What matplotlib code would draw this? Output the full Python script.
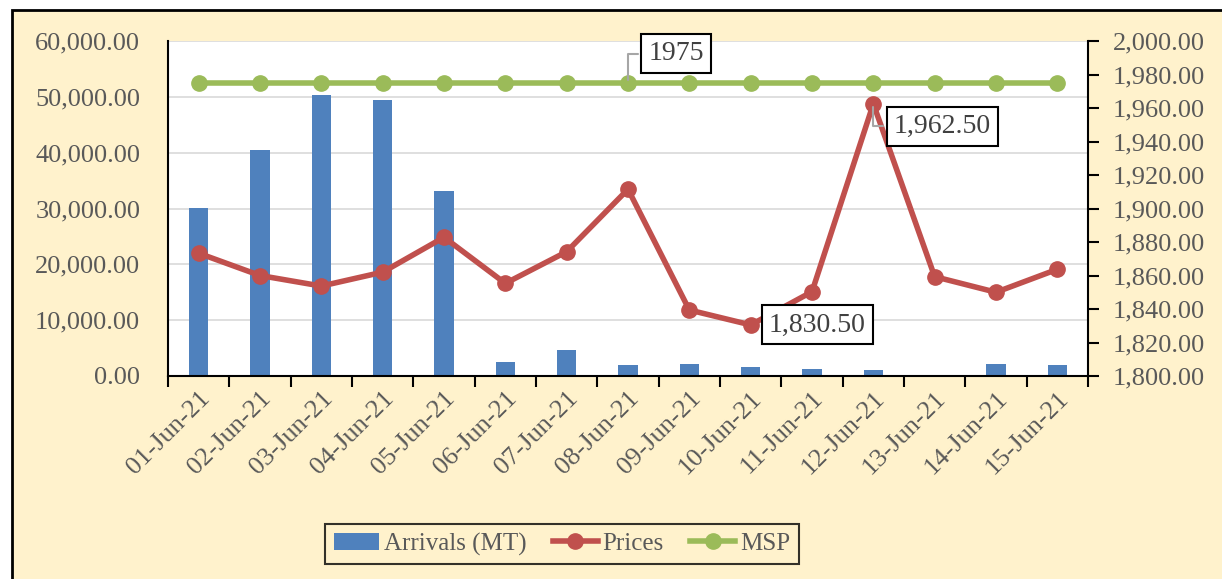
import matplotlib.pyplot as plt
from matplotlib.patches import Rectangle
from matplotlib.ticker import FuncFormatter, MultipleLocator

dates = ['01-Jun-21', '02-Jun-21', '03-Jun-21', '04-Jun-21', '05-Jun-21',
         '06-Jun-21', '07-Jun-21', '08-Jun-21', '09-Jun-21', '10-Jun-21',
         '11-Jun-21', '12-Jun-21', '13-Jun-21', '14-Jun-21', '15-Jun-21']
arrivals = [30100, 40500, 50300, 49400, 33100, 2500, 4700, 2000, 2100, 1550,
            1300, 1100, 150, 2100, 1900]
prices = [1873.3, 1860.0, 1853.7, 1862.0, 1882.8, 1855.3, 1874.2, 1911.5,
          1839.4, 1830.5, 1850.3, 1962.5, 1859.3, 1850.0, 1863.7]
msp = [1975] * 15

plt.rcParams['font.family'] = ['Liberation Serif', 'DejaVu Serif']
cream = '#FFF2CC'
txt = '#595959'

fig = plt.figure(figsize=(12.22, 5.79), dpi=100, facecolor='white')
# outer chart frame
fig.patches.append(Rectangle((12 / 1222, -0.01), 1.0, 1 - 10 / 579 + 0.01,
                             transform=fig.transFigure, facecolor=cream,
                             edgecolor='black', linewidth=2, zorder=-10))

ax = fig.add_axes([168 / 1222, 1 - 376 / 579, 920 / 1222, 335 / 579])
ax.set_facecolor('white')
x = list(range(len(dates)))

ax.bar(x, arrivals, width=0.31, color='#4F81BD', zorder=2, label='Arrivals (MT)')
ax.set_ylim(0, 60000)
ax.set_xlim(-0.5, len(dates) - 0.5)
ax.yaxis.set_major_locator(MultipleLocator(10000))
ax.yaxis.set_major_formatter(FuncFormatter(lambda v, p: f'{v:,.2f}'))
ax.grid(axis='y', color='#D9D9D9', linewidth=1.2, zorder=0)
ax.set_axisbelow(True)
ax.tick_params(axis='y', length=0, labelsize=19, labelcolor=txt, pad=20)
ax.set_xticks(x)
ax.set_xticklabels(dates, rotation=45, ha='right', rotation_mode='anchor',
                   fontsize=19, color=txt)
ax.tick_params(axis='x', which='major', length=0, pad=8)
ax.set_xticks([i - 0.5 for i in range(len(dates) + 1)], minor=True)
ax.tick_params(axis='x', which='minor', length=8, width=1.5, direction='out')
ax.spines['top'].set_visible(False)
ax.spines['right'].set_visible(False)
ax.spines['left'].set_linewidth(1.5)
ax.spines['bottom'].set_linewidth(1.5)

ax2 = ax.twinx()
ax2.plot(x, prices, color='#C0504D', linewidth=4, marker='o', markersize=11,
         label='Prices', zorder=3)
ax2.plot(x, msp, color='#9BBB59', linewidth=4, marker='o', markersize=11,
         label='MSP', zorder=3)
ax2.set_ylim(1800, 2000)
ax2.yaxis.set_major_locator(MultipleLocator(20))
ax2.yaxis.set_major_formatter(FuncFormatter(lambda v, p: f'{v:,.2f}'))
ax2.tick_params(axis='y', length=8, width=1.5, labelsize=19, labelcolor=txt, pad=10)
ax2.spines['right'].set_linewidth(1.5)
for s in ['top', 'left', 'bottom']:
    ax2.spines[s].set_visible(False)

box = dict(boxstyle='square,pad=0.25', facecolor='white', edgecolor='black', linewidth=1.5)
arrow = dict(arrowstyle='-', color='#A6A6A6', linewidth=1.5,
             connectionstyle='angle,angleA=0,angleB=90,rad=0')
ax2.annotate('1975', xy=(7, msp[7]), xytext=(7.33, 1992.3), fontsize=20,
             color='#404040', bbox=box, va='center', ha='left', arrowprops=arrow)
ax2.annotate(f'{prices[11]:,.2f}', xy=(11, prices[11]), xytext=(11.33, 1949.0),
             fontsize=20, color='#404040', bbox=box, va='center', ha='left',
             arrowprops=arrow)
ax2.annotate(f'{prices[9]:,.2f}', xy=(9, prices[9]), xytext=(9.3, 1830.5),
             fontsize=20, color='#404040', bbox=box, va='center', ha='left')

h1, l1 = ax.get_legend_handles_labels()
h2, l2 = ax2.get_legend_handles_labels()
leg = fig.legend(h1 + h2, l1 + l2, loc='center', ncol=3,
                 bbox_to_anchor=(562 / 1222, 1 - 544 / 579), fontsize=18,
                 frameon=True, fancybox=False, edgecolor='black',
                 facecolor=cream, handlelength=1.8, columnspacing=1.05,
                 handletextpad=0.2, borderpad=0.35)
leg.get_frame().set_linewidth(1.5)
for t in leg.get_texts():
    t.set_color(txt)

fig.savefig('out.png', dpi=100, facecolor=fig.get_facecolor())
